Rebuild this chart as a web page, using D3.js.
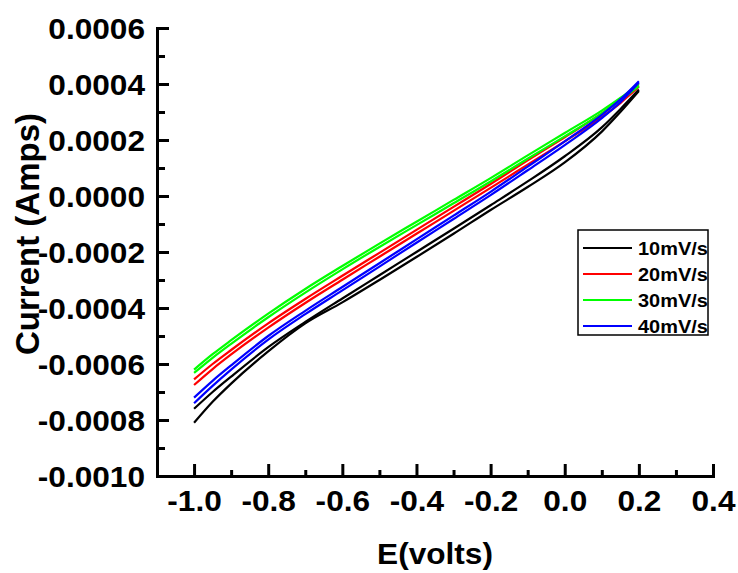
<!DOCTYPE html>
<html><head><meta charset="utf-8">
<script src="https://cdn.jsdelivr.net/npm/d3@7/dist/d3.min.js"></script>
<style>
body{margin:0;background:#fff}
svg{display:block}
text{font-family:"Liberation Sans",Arial,sans-serif;font-weight:bold;fill:#000}
</style>
</head><body>
<svg id="chart" width="738" height="573"></svg>
<script>
// Potential (V) sample points shared by every branch
const potentials = [-1.0,-0.95,-0.9,-0.8,-0.7,-0.6,-0.5,-0.4,-0.3,-0.2,-0.1,0.0,0.1,0.15,0.2];
// Currents in units of 1e-4 A (upper and lower branch of each cyclic sweep)
const rate10Upper = [-7.60,-7.00,-6.45,-5.40,-4.50,-3.66,-2.83,-2.00,-1.17,-0.33,0.52,1.42,2.45,3.10,3.80];
const rate10Lower = [-8.10,-7.35,-6.70,-5.55,-4.55,-3.80,-3.00,-2.18,-1.35,-0.50,0.32,1.20,2.30,3.00,3.75];
const rate20Upper = [-6.55,-6.00,-5.50,-4.55,-3.68,-2.85,-2.03,-1.21,-0.39,0.43,1.27,2.10,2.95,3.42,3.95];
const rate20Lower = [-6.75,-6.18,-5.66,-4.70,-3.82,-2.99,-2.17,-1.35,-0.53,0.29,1.12,1.95,2.82,3.32,3.90];
const rate30Upper = [-6.20,-5.65,-5.15,-4.20,-3.32,-2.50,-1.70,-0.92,-0.14,0.64,1.45,2.25,3.05,3.50,4.00];
const rate30Lower = [-6.32,-5.78,-5.28,-4.33,-3.45,-2.62,-1.82,-1.04,-0.26,0.52,1.33,2.13,2.95,3.42,3.92];
const rate40Upper = [-7.20,-6.60,-6.05,-5.00,-4.10,-3.25,-2.40,-1.55,-0.70,0.15,1.05,1.95,2.90,3.45,4.10];
const rate40Lower = [-7.40,-6.78,-6.20,-5.13,-4.22,-3.37,-2.52,-1.67,-0.82,0.03,0.92,1.82,2.78,3.35,4.05];

const seriesNames = ["10mV/s","20mV/s","30mV/s","40mV/s"];
const seriesColors = ["#000000","#ff0000","#00ff00","#0000ff"];
const seriesBranches = [[rate10Upper,rate10Lower],[rate20Upper,rate20Lower],[rate30Upper,rate30Lower],[rate40Upper,rate40Lower]];

const xTickValues = [-1.0,-0.8,-0.6,-0.4,-0.2,0.0,0.2,0.4];
const xMinorValues = [-0.9,-0.7,-0.5,-0.3,-0.1,0.1,0.3];
const yTickValues = [-0.0010,-0.0008,-0.0006,-0.0004,-0.0002,0.0000,0.0002,0.0004,0.0006];
const yMinorValues = [-0.0009,-0.0007,-0.0005,-0.0003,-0.0001,0.0001,0.0003,0.0005];

const svg = d3.select("#chart");
const x = d3.scaleLinear().domain([-1.1,0.4]).range([157,713]);
const y = d3.scaleLinear().domain([-0.0010,0.0006]).range([476,28]);
const hyphen = s => s.replace("\u2212","-");
const fx = v => hyphen(d3.format(".1f")(v));
const fy = v => hyphen(d3.format(".4f")(v));

// curves
const line = d3.line().x(d => x(d[0])).y(d => y(d[1]*1e-4)).curve(d3.curveMonotoneX);
seriesBranches.forEach((branches,i) => {
  branches.forEach(vals => {
    svg.append("path")
      .attr("d", line(potentials.map((p,k) => [p, vals[k]])))
      .attr("fill","none").attr("stroke",seriesColors[i]).attr("stroke-width",2.2)
      .attr("stroke-linejoin","round");
  });
});

// axes
const xAxis = svg.append("g").attr("transform","translate(0,476)")
  .call(d3.axisBottom(x).tickValues(xTickValues).tickFormat(fx).tickSizeInner(-12).tickSizeOuter(0).tickPadding(14));
svg.append("g").attr("transform","translate(0,476)")
  .call(d3.axisBottom(x).tickValues(xMinorValues).tickFormat("").tickSizeInner(-6).tickSizeOuter(0))
  .select(".domain").remove();
const yAxis = svg.append("g").attr("transform","translate(157,0)")
  .call(d3.axisLeft(y).tickValues(yTickValues).tickFormat(fy).tickSizeInner(-12).tickSizeOuter(0).tickPadding(11));
svg.append("g").attr("transform","translate(157,0)")
  .call(d3.axisLeft(y).tickValues(yMinorValues).tickFormat("").tickSizeInner(-8).tickSizeOuter(0))
  .select(".domain").remove();
svg.selectAll(".domain").attr("stroke","#000").attr("stroke-width",3).attr("stroke-linecap","square");
svg.selectAll(".tick line").attr("stroke","#000").attr("stroke-width",3);
xAxis.selectAll(".tick text").attr("font-size",29).attr("font-family",null)
  .attr("dy","0").attr("y",35).attr("transform","scale(1.09,1)");
yAxis.selectAll(".tick text").attr("font-size",29).attr("font-family",null)
  .attr("dy","0.36em").attr("transform","scale(1.09,1)");

// axis titles
svg.append("text").attr("transform","translate(435,564) scale(1.09,1)")
  .attr("text-anchor","middle").attr("font-size",29).text("E(volts)");
svg.append("text").attr("transform","translate(39,234) rotate(-90)")
  .attr("text-anchor","middle").attr("font-size",33).text("Current (Amps)");

// legend
const lg = svg.append("g");
lg.append("rect").attr("x",578).attr("y",230).attr("width",130).attr("height",105)
  .attr("fill","#fff").attr("stroke","#000").attr("stroke-width",1.5);
seriesNames.forEach((name,i) => {
  const yy = 248 + i*26;
  lg.append("line").attr("x1",583).attr("x2",632).attr("y1",yy).attr("y2",yy)
    .attr("stroke",seriesColors[i]).attr("stroke-width",2);
  lg.append("text").attr("transform",`translate(638,${yy}) scale(1.05,1)`).attr("dy","0.36em")
    .attr("font-size",19).text(name);
});
</script>
</body></html>
